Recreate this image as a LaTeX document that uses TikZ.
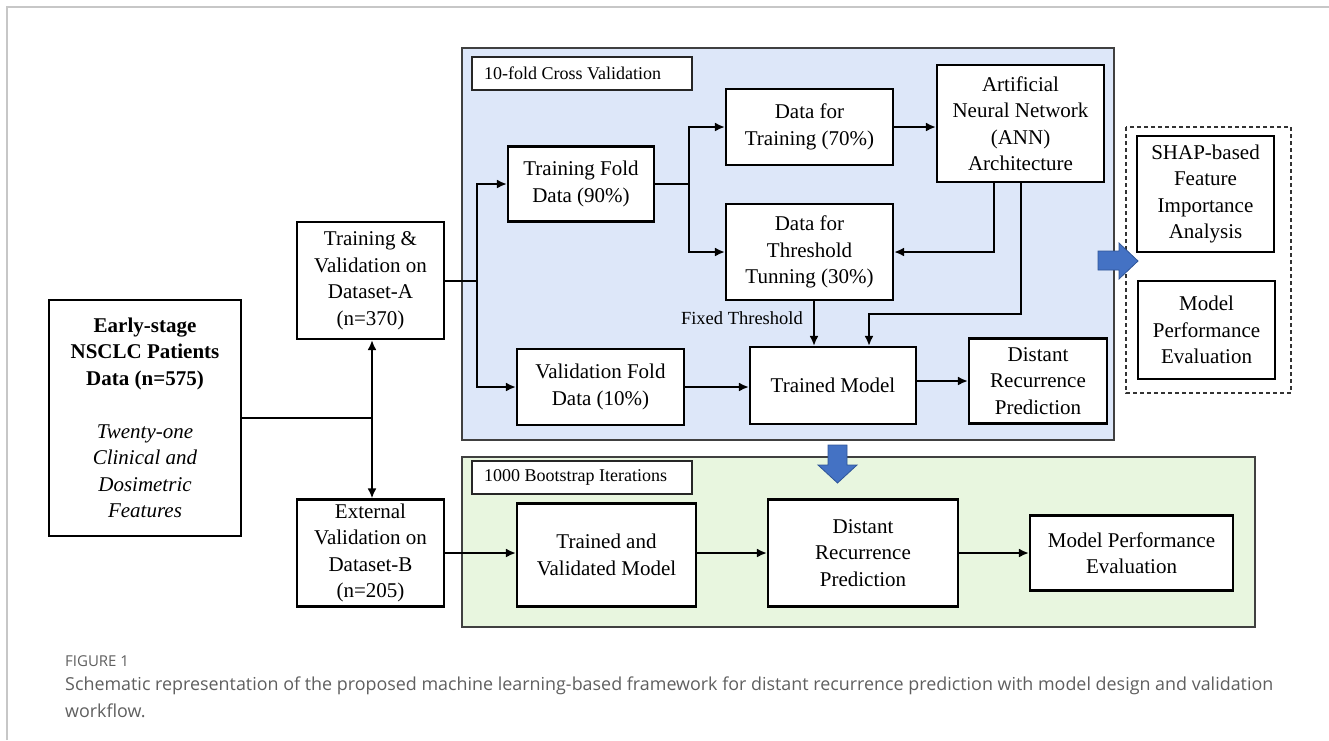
\documentclass[tikz,border=0pt]{standalone}
\usepackage{fontspec}
\setmainfont{Liberation Serif}
\newfontfamily\boxfont{Liberation Serif}
\newfontfamily\capfont{Open Sans}
\usetikzlibrary{arrows.meta,calc}
\definecolor{panelblue}{RGB}{221,231,249}
\definecolor{panelgreen}{RGB}{232,246,223}
\definecolor{arrowblue}{RGB}{68,114,196}
\definecolor{arrowedge}{RGB}{47,85,151}
\definecolor{capgray}{RGB}{95,95,95}
\begin{document}
\begin{tikzpicture}[x=1pt,y=-1pt,
  box/.style={draw=black,line width=2.2pt,fill=white,inner sep=0pt,align=center,
     font=\boxfont\fontsize{21}{26.5}\selectfont},
  panel/.style={draw=black!75,line width=1.4pt},
  tagbox/.style={draw=black!85,line width=1.1pt,fill=white},
  tagtext/.style={inner sep=0pt,anchor=west,font=\boxfont\fontsize{18}{20}\selectfont},
  conn/.style={line width=2pt},
  arr/.style={line width=2pt,-{Latex[length=10pt,width=9pt]}},
  blockarrow/.style={fill=arrowblue,draw=arrowedge,line width=0.8pt}]
\useasboundingbox (0,0) rectangle (1329,740);
% outer frame
\draw[black!22,line width=1.5pt] (7,740) -- (7,7) -- (1329,7);
% panels
\draw[panel,fill=panelblue] (462,48) rectangle (1114,440);
\draw[panel,fill=panelgreen] (462,457) rectangle (1255,627);
\draw[tagbox] (472,57) rectangle (692,90);
\node[tagtext] (tagcv) at (484,73.5) {10-fold Cross Validation};
\draw[tagbox] (472,461) rectangle (692,494);
\node[tagtext] (tagbs) at (484,477.5) {1000 Bootstrap Iterations};
% dashed group
\draw[black!80,line width=1.2pt,dash pattern=on 4pt off 3pt] (1126,127) rectangle (1291,393);
% nodes
\node[box,minimum width=192,minimum height=236] (early) at (145,418)
  {\textbf{Early-stage}\\\textbf{NSCLC Patients}\\\textbf{Data (n=575)}\\[26.5pt]
   \textit{Twenty-one}\\\textit{Clinical and}\\\textit{Dosimetric}\\\textit{Features}};
\node[box,minimum width=147,minimum height=117] (tv) at (370.5,280.5)
  {Training \&\\Validation on\\Dataset-A\\(n=370)};
\node[box,minimum width=147,minimum height=107] (ev) at (370.5,553)
  {External\\Validation on\\Dataset-B\\(n=205)};
\node[box,minimum width=146,minimum height=75] (tf) at (581,184)
  {Training Fold\\Data (90\%)};
\node[box,minimum width=167,minimum height=76] (vf) at (600.5,387)
  {Validation Fold\\Data (10\%)};
\node[box,minimum width=167,minimum height=76] (dft) at (809.5,127)
  {Data for\\Training (70\%)};
\node[box,minimum width=167,minimum height=96] (dth) at (809.5,252)
  {Data for\\Threshold\\Tunning (30\%)};
\node[box,minimum width=167,minimum height=117] (ann) at (1020.5,123.5)
  {Artificial\\Neural Network\\(ANN)\\Architecture};
\node[box,minimum width=166,minimum height=77] (tm) at (833,385.5)
  {Trained Model};
\node[box,minimum width=138,minimum height=85] (drpa) at (1038,381)
  {Distant\\Recurrence\\Prediction};
\node[box,minimum width=137,minimum height=116] (shap) at (1205.5,194)
  {SHAP-based\\Feature\\Importance\\Analysis};
\node[box,minimum width=137,minimum height=98] (mpea) at (1206.5,330)
  {Model\\Performance\\Evaluation};
\node[box,minimum width=179,minimum height=103] (tvm) at (606.5,555)
  {Trained and\\Validated Model};
\node[box,minimum width=190,minimum height=107] (drpb) at (863,553)
  {Distant\\Recurrence\\Prediction};
\node[box,minimum width=203,minimum height=75] (mpeb) at (1131.5,553)
  {Model Performance\\Evaluation};
% connectors
\coordinate (j1) at (372,418);
\draw[conn] (early.east |- j1) -- (j1);
\draw[arr] (j1) -- (j1 |- tv.south);
\draw[arr] (j1) -- (j1 |- ev.north);
\coordinate (j2) at (477,281);
\draw[conn] (tv.east |- j2) -- (j2);
\draw[arr] (j2) |- (tf.west);
\draw[arr] (j2) |- (vf.west);
\coordinate (j3) at (689,184);
\draw[conn] (tf.east) -- (j3);
\draw[arr] (j3) |- (dft.west);
\draw[arr] (j3) |- (dth.west);
\draw[arr] (dft.east) -- (dft.east -| ann.west);
\coordinate (a1) at ($(ann.south)+(-26.5,0)$);
\draw[arr] (a1) |- (dth.east);
\coordinate (k1) at (1020.5,314);
\coordinate (k2) at (869,314);
\draw[arr] (ann.south) -- (k1) -- (k2) -- (k2 |- tm.north);
\coordinate (t1) at (814,300);
\draw[arr] (t1) -- (t1 |- tm.north);
\node[anchor=east,inner sep=0pt,font=\boxfont\fontsize{18.5}{20}\selectfont] (fixlbl) at (803,318) {Fixed Threshold};
\draw[arr] (vf.east) -- (vf.east -| tm.west);
\draw[arr] (drpa.west -| tm.east) -- (drpa.west);
\draw[arr] (ev.east) -- (ev.east -| tvm.west);
\draw[arr] (tvm.east |- drpb.west) -- (drpb.west);
\draw[arr] (drpb.east) -- (drpb.east -| mpeb.west);
% block arrows
\draw[blockarrow] (1098,251) -- (1119,251) -- (1119,243) -- (1138,261) -- (1119,279) -- (1119,270) -- (1098,270) -- cycle;
\draw[blockarrow] (828,445) -- (847,445) -- (847,465) -- (857,465) -- (837.5,483) -- (818,465) -- (828,465) -- cycle;
% caption
\node[anchor=base west,inner sep=0pt,text=capgray,font=\capfont\fontsize{15}{16}\selectfont] (figlbl) at (65,666) {FIGURE 1};
\node[anchor=base west,inner sep=0pt,text=capgray,font=\capfont\fontsize{17.9}{22}\selectfont] (cap1) at (65,690)
  {Schematic representation of the proposed machine learning-based framework for distant recurrence prediction with model design and validation};
\node[anchor=base west,inner sep=0pt,text=capgray,font=\capfont\fontsize{17.9}{22}\selectfont] (cap2) at (65,717) {workflow.};
\end{tikzpicture}
\end{document}
